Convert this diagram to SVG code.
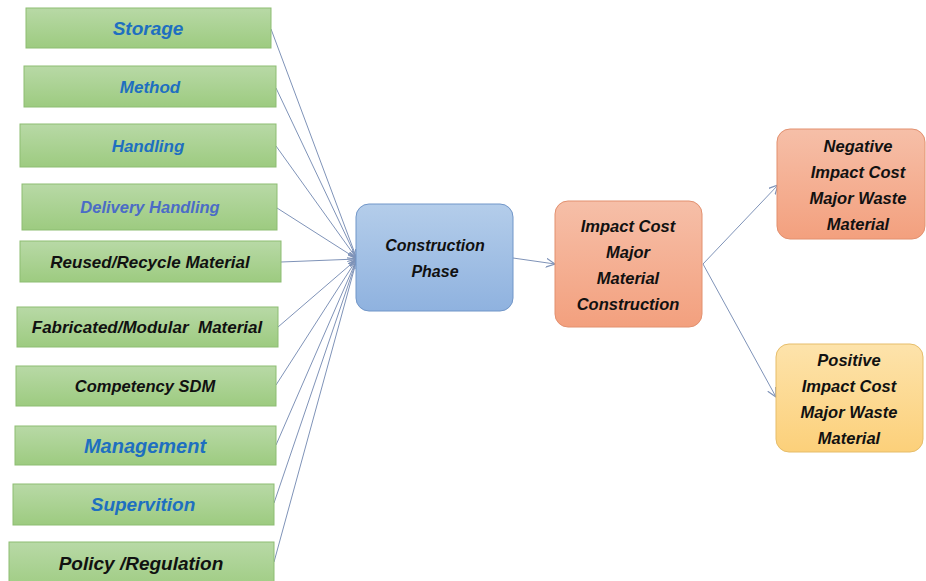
<svg xmlns="http://www.w3.org/2000/svg" width="926" height="581" viewBox="0 0 926 581">
<defs>
<linearGradient id="gG" x1="0" y1="0" x2="0" y2="1"><stop offset="0" stop-color="#b8d9a6"/><stop offset="1" stop-color="#9dcb80"/></linearGradient>
<linearGradient id="gB" x1="0" y1="0" x2="0" y2="1"><stop offset="0" stop-color="#b4cdea"/><stop offset="1" stop-color="#8fb2df"/></linearGradient>
<linearGradient id="gO" x1="0" y1="0" x2="0" y2="1"><stop offset="0" stop-color="#f6bfa8"/><stop offset="1" stop-color="#f3a07e"/></linearGradient>
<linearGradient id="gY" x1="0" y1="0" x2="0" y2="1"><stop offset="0" stop-color="#fde3ab"/><stop offset="1" stop-color="#fcd07a"/></linearGradient>
<marker id="arr" viewBox="0 0 10 10" refX="9" refY="5" markerWidth="10" markerHeight="10" markerUnits="userSpaceOnUse" orient="auto">
<path d="M0,0.5 L9,5 L0,9.5" fill="none" stroke="#7f93b8" stroke-width="1.2"/>
</marker>
</defs>
<style>
.g{fill:url(#gG);stroke:#8dbd72;stroke-width:1}
.b{fill:url(#gB);stroke:#7196c8;stroke-width:1}
.o{fill:url(#gO);stroke:#e2906f;stroke-width:1}
.y{fill:url(#gY);stroke:#e6bd6a;stroke-width:1}
text{font-family:"Liberation Sans",Arial,sans-serif;font-weight:bold;font-style:italic;text-anchor:middle}
.bl{fill:#1e6fc0}
.pl{fill:#4b6cc6}
.k{fill:#111}
.c line{stroke:#7f93b8;stroke-width:1;marker-end:url(#arr)}
</style>
<rect width="926" height="581" fill="#fff"/>
<g class="c" id="connectors">
<line x1="271" y1="29" x2="357" y2="259"/>
<line x1="276" y1="88" x2="357" y2="259"/>
<line x1="276" y1="146" x2="357" y2="259"/>
<line x1="277" y1="208" x2="357" y2="259"/>
<line x1="281" y1="262" x2="357" y2="259"/>
<line x1="278" y1="327" x2="357" y2="259"/>
<line x1="276" y1="385" x2="357" y2="259"/>
<line x1="276" y1="445" x2="357" y2="259"/>
<line x1="274" y1="503" x2="357" y2="259"/>
<line x1="274" y1="562" x2="357" y2="259"/>
<line x1="513" y1="258" x2="555" y2="264"/>
<line x1="703" y1="264" x2="778" y2="185"/>
<line x1="703" y1="264" x2="776" y2="397"/>
</g>
<g id="storage"><rect class="g" x="26" y="8" width="245" height="40"/><text class="bl" x="148" y="35" font-size="19">Storage</text></g>
<g id="method"><rect class="g" x="24" y="66" width="252" height="41"/><text class="bl" x="150" y="93" font-size="17">Method</text></g>
<g id="handling"><rect class="g" x="20" y="124" width="256" height="43"/><text class="bl" x="148" y="152" font-size="17">Handling</text></g>
<g id="delivery"><rect class="g" x="22" y="184" width="255" height="46"/><text class="pl" x="150" y="213" font-size="16.5">Delivery Handling</text></g>
<g id="reused"><rect class="g" x="20" y="241" width="261" height="41"/><text class="k" x="150" y="268" font-size="17">Reused/Recycle Material</text></g>
<g id="fabricated"><rect class="g" x="17" y="307" width="261" height="40"/><text class="k" x="147" y="333" font-size="17" xml:space="preserve">Fabricated/Modular  Material</text></g>
<g id="competency"><rect class="g" x="16" y="366" width="260" height="40"/><text class="k" x="145" y="392" font-size="16.5">Competency SDM</text></g>
<g id="management"><rect class="g" x="15" y="426" width="261" height="39"/><text class="bl" x="145" y="453" font-size="20">Management</text></g>
<g id="supervition"><rect class="g" x="13" y="484" width="261" height="41"/><text class="bl" x="143" y="511" font-size="19">Supervition</text></g>
<g id="policy"><rect class="g" x="9" y="542" width="265" height="50"/><text class="k" x="141" y="570" font-size="19">Policy /Regulation</text></g>
<g id="construction"><rect class="b" x="356" y="204" width="157" height="107" rx="13"/><text class="k" x="435" y="251" font-size="16">Construction</text><text class="k" x="435" y="277" font-size="16">Phase</text></g>
<g id="impact"><rect class="o" x="555" y="201" width="147" height="126" rx="13"/><text class="k" x="628" y="232" font-size="16.5">Impact Cost</text><text class="k" x="628" y="258" font-size="16.5">Major</text><text class="k" x="628" y="284" font-size="16.5">Material</text><text class="k" x="628" y="310" font-size="16.5">Construction</text></g>
<g id="negative"><rect class="o" x="777" y="129" width="148" height="110" rx="13"/><text class="k" x="858" y="152" font-size="16.5">Negative</text><text class="k" x="858" y="178" font-size="16.5">Impact Cost</text><text class="k" x="858" y="204" font-size="16.5">Major Waste</text><text class="k" x="858" y="230" font-size="16.5">Material</text></g>
<g id="positive"><rect class="y" x="776" y="344" width="147" height="108" rx="13"/><text class="k" x="849" y="366" font-size="16.5">Positive</text><text class="k" x="849" y="392" font-size="16.5">Impact Cost</text><text class="k" x="849" y="418" font-size="16.5">Major Waste</text><text class="k" x="849" y="444" font-size="16.5">Material</text></g>
</svg>
